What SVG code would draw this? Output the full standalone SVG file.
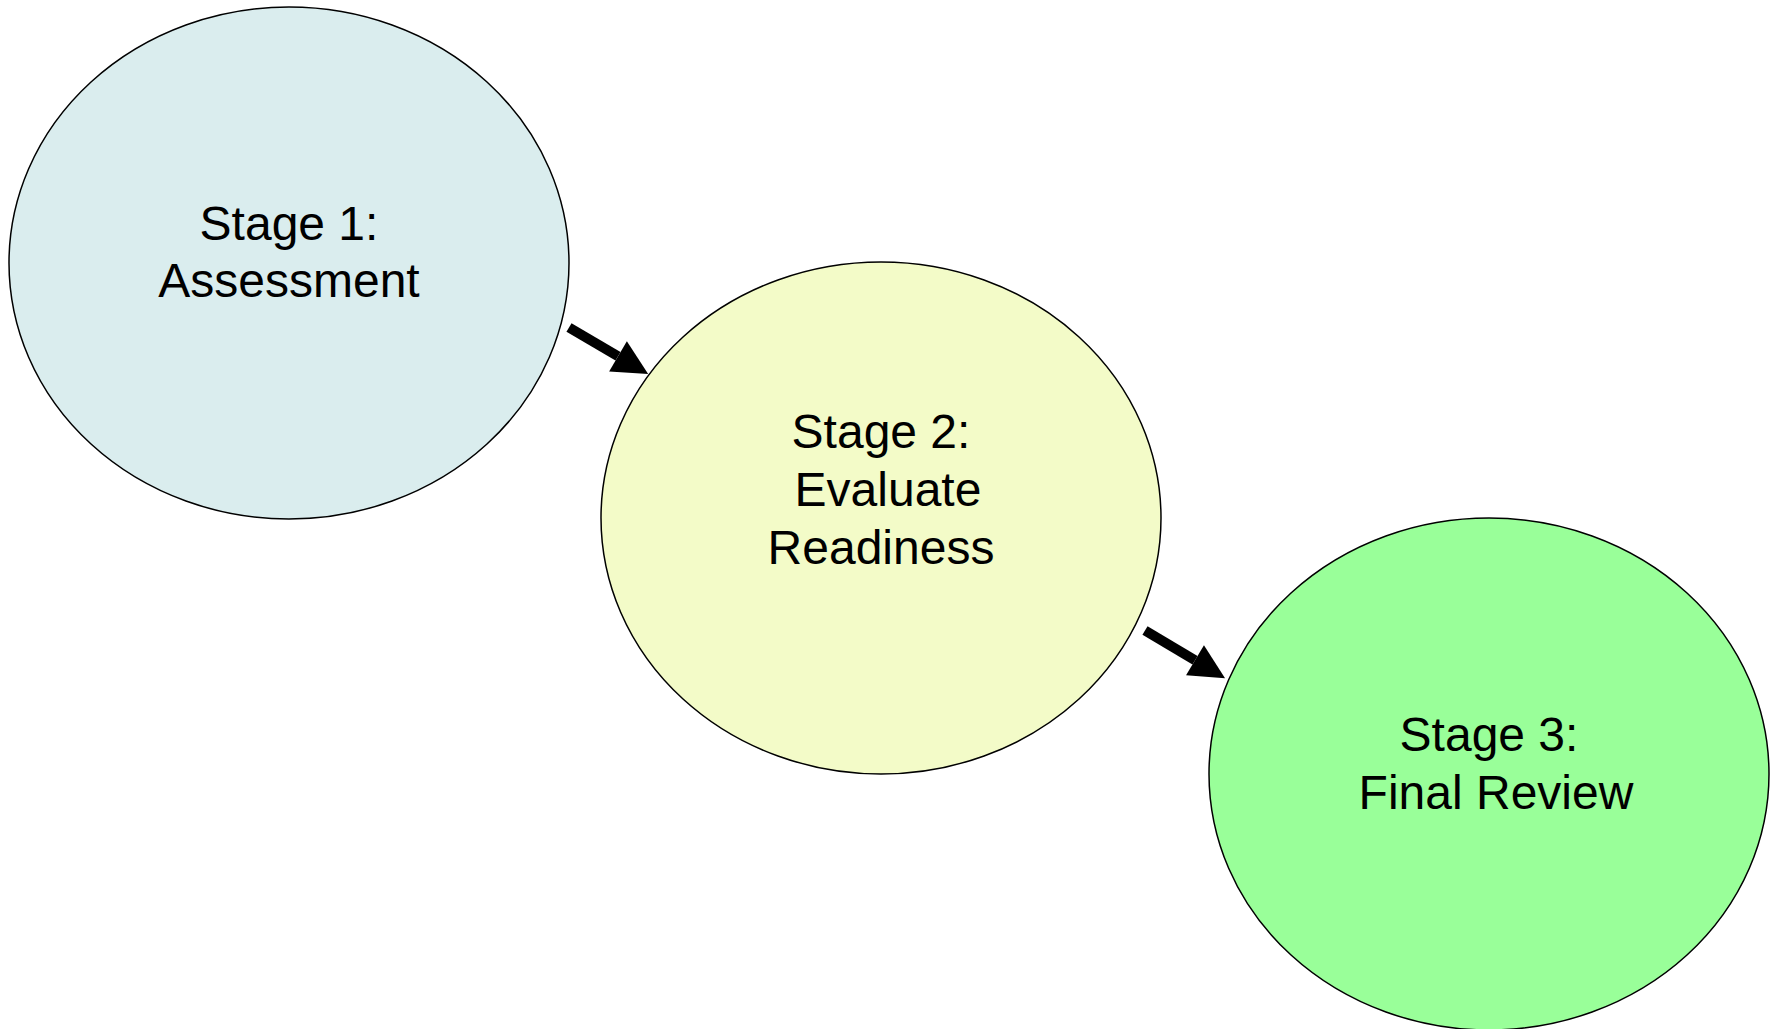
<svg xmlns="http://www.w3.org/2000/svg" width="1779" height="1029" viewBox="0 0 1779 1029">
  <style>
    .node { stroke: #000000; stroke-width: 1.5; }
    .label { font-family: "Liberation Sans", Arial, sans-serif; font-size: 48px; fill: #000000; text-anchor: middle; }
    .conn { stroke: #000000; stroke-width: 10; fill: none; }
  </style>
  <defs>
    <marker id="head" markerUnits="userSpaceOnUse" markerWidth="36" markerHeight="36" refX="0" refY="17.5" orient="auto" overflow="visible">
      <path d="M0,0 L35,17.5 L0,35 Z" fill="#000000"/>
    </marker>
  </defs>
  <rect x="0" y="0" width="1779" height="1029" fill="#ffffff"/>
  <g id="stage1">
    <ellipse class="node" cx="289" cy="263" rx="280" ry="256" fill="#DAEDEE"/>
    <text class="label" x="289" y="240">Stage 1:</text>
    <text class="label" x="289" y="297">Assessment</text>
  </g>
  <g id="stage2">
    <ellipse class="node" cx="881" cy="518" rx="280" ry="256" fill="#F3FBC8"/>
    <text class="label" x="881" y="448">Stage 2:</text>
    <text class="label" x="888" y="506">Evaluate</text>
    <text class="label" x="881" y="564">Readiness</text>
  </g>
  <g id="stage3">
    <ellipse class="node" cx="1489" cy="774" rx="280" ry="256" fill="#99FF99"/>
    <text class="label" x="1489" y="751">Stage 3:</text>
    <text class="label" x="1496" y="809">Final Review</text>
  </g>
  <g id="connectors">
    <line class="conn" x1="569" y1="327.5" x2="618" y2="356.3" marker-end="url(#head)"/>
    <line class="conn" x1="1145" y1="630.5" x2="1195" y2="660.3" marker-end="url(#head)"/>
  </g>
</svg>
